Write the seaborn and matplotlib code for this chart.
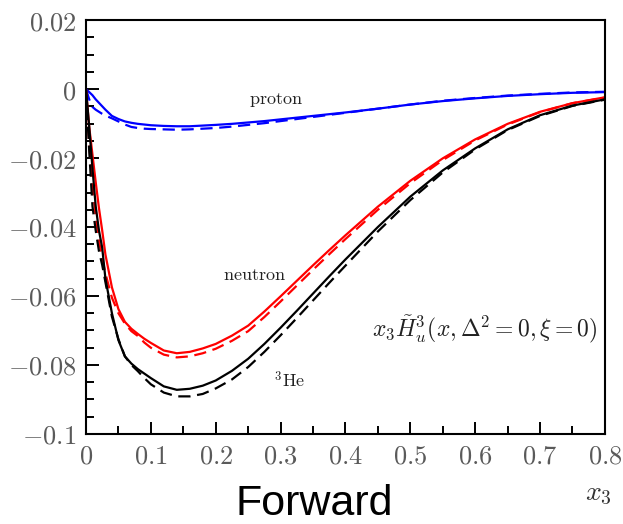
import numpy as np
import pandas as pd
import matplotlib
matplotlib.use("Agg")
import matplotlib.pyplot as plt
import seaborn as sns
from matplotlib.ticker import MultipleLocator, FuncFormatter

x_vals = [0, 0.005, 0.01, 0.015, 0.02, 0.025, 0.03, 0.04, 0.05, 0.06, 0.07, 0.08, 0.09,
          0.10, 0.12, 0.14, 0.16, 0.18, 0.20, 0.225, 0.25, 0.275, 0.30, 0.325, 0.35,
          0.375, 0.40, 0.45, 0.50, 0.55, 0.60, 0.65, 0.70, 0.75, 0.80]

proton_solid = [0, -0.0009, -0.0018, -0.0030, -0.0040, -0.0050, -0.0060, -0.0078, -0.0087,
                -0.0094, -0.0098, -0.0101, -0.0103, -0.0105, -0.0107, -0.0108, -0.0108,
                -0.0106, -0.0104, -0.0101, -0.0097, -0.0093, -0.0088, -0.0083, -0.0078,
                -0.0073, -0.0068, -0.0057, -0.0045, -0.0035, -0.0027, -0.0020, -0.0015,
                -0.0011, -0.0009]
proton_dashed = [0, -0.0030, -0.0052, -0.0060, -0.0066, -0.0072, -0.0077, -0.0085, -0.0094,
                 -0.0103, -0.0110, -0.0113, -0.0115, -0.0116, -0.0117, -0.0118, -0.0117,
                 -0.0115, -0.0113, -0.0109, -0.0104, -0.0099, -0.0093, -0.0087, -0.0081,
                 -0.0075, -0.0069, -0.0057, -0.0045, -0.0034, -0.0026, -0.0019, -0.0014,
                 -0.0010, -0.0008]
neutron_solid = [0, -0.011, -0.019, -0.027, -0.0345, -0.041, -0.048, -0.0575, -0.0638,
                 -0.0675, -0.0695, -0.0710, -0.0724, -0.0736, -0.0758, -0.0766, -0.0762,
                 -0.0752, -0.0739, -0.0715, -0.0686, -0.0645, -0.0601, -0.0556, -0.0511,
                 -0.0467, -0.0424, -0.0341, -0.0266, -0.0201, -0.0146, -0.0101, -0.0066,
                 -0.0041, -0.0024]
neutron_dashed = [0, -0.016, -0.028, -0.037, -0.044, -0.049, -0.0535, -0.0605, -0.0650,
                  -0.0680, -0.0702, -0.0716, -0.0735, -0.0750, -0.0770, -0.0778, -0.0775,
                  -0.0766, -0.0753, -0.0730, -0.0702, -0.0661, -0.0616, -0.0570, -0.0524,
                  -0.0479, -0.0435, -0.0350, -0.0273, -0.0206, -0.0149, -0.0103, -0.0067,
                  -0.0041, -0.0025]
he3_solid = [0, -0.011, -0.023, -0.034, -0.041, -0.046, -0.055, -0.0650, -0.0728,
             -0.0775, -0.0796, -0.0812, -0.0825, -0.0838, -0.0862, -0.0872, -0.0869,
             -0.0860, -0.0845, -0.0817, -0.0782, -0.0739, -0.0692, -0.0643, -0.0593,
             -0.0543, -0.0494, -0.0400, -0.0312, -0.0236, -0.0172, -0.0117, -0.0076,
             -0.0048, -0.0030]
he3_dashed = [0, -0.018, -0.034, -0.041, -0.047, -0.051, -0.056, -0.0660, -0.0725,
              -0.0775, -0.0800, -0.0818, -0.0838, -0.0856, -0.0880, -0.0891, -0.0891,
              -0.0884, -0.0868, -0.0842, -0.0806, -0.0762, -0.0714, -0.0664, -0.0613,
              -0.0562, -0.0512, -0.0413, -0.0322, -0.0242, -0.0175, -0.0119, -0.0078,
              -0.0049, -0.0031]

series = {
    ("proton", "solid"): proton_solid,
    ("proton", "dashed"): proton_dashed,
    ("neutron", "solid"): neutron_solid,
    ("neutron", "dashed"): neutron_dashed,
    ("3He", "solid"): he3_solid,
    ("3He", "dashed"): he3_dashed,
}
rows = []
for (nuc, sty), ys in series.items():
    for xv, yv in zip(x_vals, ys):
        rows.append({"x": xv, "y": yv, "nucleus": nuc, "style": sty})
df = pd.DataFrame(rows)

sns.set_theme(style="white")
plt.rcParams["mathtext.fontset"] = "cm"
plt.rcParams["font.family"] = ["DejaVu Serif"]

fig = plt.figure(figsize=(6.23, 5.24), dpi=100)
ax = fig.add_axes([0.138, 0.1718, 0.833, 0.79])

sns.lineplot(data=df, x="x", y="y", hue="nucleus", style="style",
             palette={"proton": "#0000ff", "neutron": "#ff0000", "3He": "#000000"},
             dashes={"solid": "", "dashed": (5.5, 3)},
             linewidth=1.6, legend=False, ax=ax, estimator=None, sort=False)

ax.set_xlim(0, 0.8)
ax.set_ylim(-0.1, 0.02)
ax.set_xlabel("")
ax.set_ylabel("")

def fmt(v, pos):
    if abs(v) < 1e-9:
        s = "0"
    else:
        s = "%g" % round(v, 4)
    return r"$%s$" % s

ax.xaxis.set_major_locator(MultipleLocator(0.1))
ax.xaxis.set_minor_locator(MultipleLocator(0.05))
ax.yaxis.set_major_locator(MultipleLocator(0.02))
ax.yaxis.set_minor_locator(MultipleLocator(0.005))
ax.xaxis.set_major_formatter(FuncFormatter(fmt))
ax.yaxis.set_major_formatter(FuncFormatter(fmt))

ax.tick_params(axis="both", which="major", direction="in", length=9, width=1.4,
               labelsize=19, labelcolor="#5a5a5a", color="black", pad=7,
               bottom=True, left=True, top=False, right=False)
ax.tick_params(axis="both", which="minor", direction="in", length=5.5, width=1.4,
               color="black", bottom=True, left=True, top=False, right=False)
for sp in ax.spines.values():
    sp.set_visible(True)
    sp.set_color("black")
    sp.set_linewidth(1.5)

ax.text(0.293, -0.0032, r"$\mathrm{proton}$", fontsize=13, ha="center", va="center", color="#222222")
ax.text(0.259, -0.0539, r"$\mathrm{neutron}$", fontsize=13, ha="center", va="center", color="#222222")
ax.text(0.314, -0.0846, r"$^{3}\mathrm{He}$", fontsize=13, ha="center", va="center", color="#222222")
ax.text(0.788, -0.0696, r"$x_3\tilde{H}^3_u(x,\Delta^2=0,\xi=0)$", fontsize=17,
        ha="right", va="center", color="#222222")

fig.text(0.960, 0.058, r"$x_3$", fontsize=20, ha="center", va="center", color="#333333")
fig.text(0.504, 0.038, "Forward", fontsize=31, ha="center", va="center",
         family=["Liberation Sans", "DejaVu Sans"], color="black")

fig.savefig("out.png", dpi=100)
